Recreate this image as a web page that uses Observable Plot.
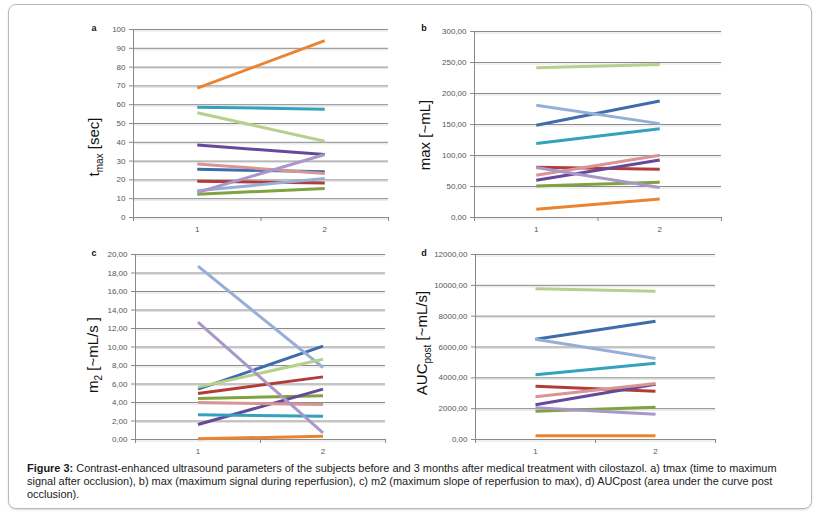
<!DOCTYPE html>
<html><head><meta charset="utf-8">
<script src="https://cdn.jsdelivr.net/npm/d3@7"></script>
<script src="https://cdn.jsdelivr.net/npm/@observablehq/plot@0.6"></script>
<style>
body{margin:0;background:#fff;width:820px;height:516px;position:relative;overflow:hidden;font-family:"Liberation Sans",Arial,sans-serif;}
#frame{position:absolute;left:8px;top:4px;width:802px;height:503px;border:1px solid #b8b8b8;border-radius:8px;box-shadow:0 1px 2px rgba(0,0,0,0.15);}
.panel{position:absolute;}
#caption{position:absolute;left:27px;top:462px;font-size:10.95px;line-height:13.2px;color:#1a1a1a;white-space:nowrap;}
</style></head>
<body>
<div id="frame"></div>
<div id="pa" class="panel" style="left:80px;top:20px"></div>
<div id="pb" class="panel" style="left:410px;top:20px"></div>
<div id="pc" class="panel" style="left:80px;top:240px"></div>
<div id="pd" class="panel" style="left:410px;top:240px"></div>
<div id="caption"><b>Figure 3:</b> Contrast-enhanced ultrasound parameters of the subjects before and 3 months after medical treatment with cilostazol. a) tmax (time to maximum<br>signal after occlusion), b) max (maximum signal during reperfusion), c) m2 (maximum slope of reperfusion to max), d) AUCpost (area under the curve post<br>occlusion).</div>
<script>
// ---- data ----
const subjects = ["S1","S2","S3","S4","S5","S6","S7","S8","S9","S10"];
const timepoints = [1, 2];
const tmaxBefore = [25.7, 19.3, 12.4, 38.5, 58.7, 68.8, 14.2, 28.5, 55.7, 13.3];
const tmaxAfter  = [24.3, 18.4, 15.4, 33.5, 57.6, 94.1, 20.7, 23.4, 40.6, 33.5];
const maxBefore  = [148.7, 81.0, 51.0, 60.1, 119.2, 13.4, 180.9, 68.2, 241.5, 80.5];
const maxAfter   = [187.9, 77.8, 56.9, 92.9, 143.3, 30.0, 151.4, 100.4, 246.9, 48.3];
const m2Before   = [5.44, 4.97, 4.43, 1.62, 2.67, 0.07, 18.74, 4.00, 5.66, 12.68];
const m2After    = [10.09, 6.77, 4.72, 5.44, 2.52, 0.36, 7.78, 3.78, 8.68, 0.72];
const aucBefore  = [6500, 3459, 1838, 2249, 4195, 238, 6500, 2768, 9773, 2054];
const aucAfter   = [7676, 3135, 2097, 3590, 4951, 238, 5254, 3632, 9622, 1643];
const tmaxTicks = [0,10,20,30,40,50,60,70,80,90,100];
const maxTicks  = [0,50,100,150,200,250,300];
const m2Ticks   = [0,2,4,6,8,10,12,14,16,18,20];
const aucTicks  = [0,2000,4000,6000,8000,10000,12000];

const palette = ["#3e6dab","#b23c39","#7fa33e","#66499a","#34a2ba","#ea8432","#95afd8","#d89593","#b7d08d","#aa97c9"];

function rows(before, after){
  const out = [];
  subjects.forEach((s,i)=>{
    out.push({subject:s, t:timepoints[0], v:before[i]});
    out.push({subject:s, t:timepoints[1], v:after[i]});
  });
  return out;
}
const comma2 = d => d3.format(".2f")(d).replace(".", ",");
const intf = d => String(d);

function panel(opts){
  const {id, letter, before, after, ticks, fmt, width, height, ml, mt, mr, mb, labelX, labelY, labelParts, letterX, letterY} = opts;
  const data = rows(before, after);
  const chart = Plot.plot({
    width, height, marginLeft: ml, marginTop: mt, marginRight: mr, marginBottom: mb,
    style:{fontFamily:"Liberation Sans, Arial, sans-serif", fontSize:"8px", color:"#555", background:"transparent", overflow:"visible"},
    x:{type:"linear", domain:[0.5, 2.5]},
    y:{domain:[ticks[0], ticks[ticks.length-1]]},
    color:{domain: subjects, range: palette},
    marks:[
      Plot.gridY(ticks, {stroke:"#e2e2e2", strokeOpacity:1, dy:1.5}),
      Plot.gridY(ticks, {stroke:"#8a8a8a", strokeOpacity:1}),
      Plot.axisY(ticks, {tickFormat: fmt, tickSize:4, stroke:"#8a8a8a", tickPadding:4, fill:"#555", label:null}),
      Plot.ruleX([0.5], {stroke:"#8a8a8a"}),
      Plot.ruleY([ticks[0]], {stroke:"#8a8a8a"}),
      Plot.axisX([0.5, 1.5, 2.5], {tickSize:4, stroke:"#8a8a8a", tickFormat:()=>"", label:null}),
      Plot.axisX(timepoints, {tickSize:0, tickPadding:9, tickFormat: d=>String(d), fill:"#555", label:null}),
      Plot.line(data, {x:"t", y:"v", z:"subject", stroke:"subject", strokeWidth:3, strokeLinecap:"butt"})
    ]
  });
  const svg = d3.select(chart);
  // y axis title
  const t = svg.append("text")
    .attr("transform", `translate(${labelX},${labelY}) rotate(-90)`)
    .attr("text-anchor","middle")
    .attr("font-family","Liberation Sans, Arial, sans-serif")
    .attr("font-size", 15)
    .attr("fill","#111");
  labelParts.forEach(p=>{
    const ts = t.append("tspan").text(p.text);
    if (p.sub) ts.attr("font-size", 10).attr("dy", 4);
    if (p.after) ts.attr("dy", -4);
  });
  svg.append("text")
    .attr("x", letterX).attr("y", letterY)
    .attr("font-family","Liberation Sans, Arial, sans-serif")
    .attr("font-weight","bold").attr("font-size", 9).attr("fill","#111")
    .text(letter);
  document.getElementById(id).appendChild(chart);
}

panel({id:"pa", letter:"a", before:tmaxBefore, after:tmaxAfter, ticks:tmaxTicks, fmt:intf,
  width:320, height:217, ml:53, mt:9, mr:12, mb:20, labelX:19, labelY:127,
  labelParts:[{text:"t"},{text:"max", sub:true},{text:" [sec]", after:true}], letterX:14, letterY:11});
panel({id:"pb", letter:"b", before:maxBefore, after:maxAfter, ticks:maxTicks, fmt:comma2,
  width:321, height:217, ml:64, mt:11, mr:10, mb:20, labelX:20, labelY:115,
  labelParts:[{text:"max [~mL]"}], letterX:14, letterY:11});
panel({id:"pc", letter:"c", before:m2Before, after:m2After, ticks:m2Ticks, fmt:comma2,
  width:320, height:219, ml:55, mt:14, mr:15, mb:20, labelX:18, labelY:115,
  labelParts:[{text:"m"},{text:"2", sub:true},{text:" [~mL/s ]", after:true}], letterX:14, letterY:16});
panel({id:"pd", letter:"d", before:aucBefore, after:aucAfter, ticks:aucTicks, fmt:comma2,
  width:320, height:219, ml:65, mt:14, mr:15, mb:20, labelX:17, labelY:103,
  labelParts:[{text:"AUC"},{text:"post", sub:true},{text:" [~mL/s]", after:true}], letterX:14, letterY:16});
</script>
</body></html>
